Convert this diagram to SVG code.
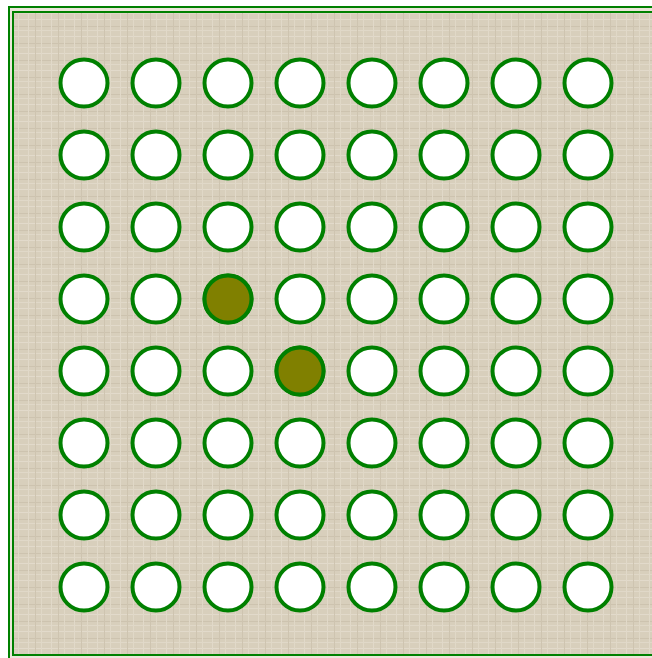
<svg xmlns="http://www.w3.org/2000/svg" width="652" height="658" viewBox="0 0 652 658">
<style>
.c{fill:#ffffff;stroke:#008000;stroke-width:4}
.f{fill:#808000}
.b{fill:none;stroke:#008000;stroke-width:2}
</style>
<defs>
<pattern id="tex" width="23" height="17" patternUnits="userSpaceOnUse">
<rect width="23" height="17" fill="#d8cfbc"/>
<rect x="0" y="2" width="23" height="1" fill="#e2dacb"/>
<rect x="0" y="9" width="23" height="1" fill="#cdc3af"/>
<rect x="0" y="13" width="23" height="1" fill="#e0d8c8"/>
<rect x="5" y="0" width="1" height="17" fill="#e1d9c9"/>
<rect x="12" y="0" width="1" height="17" fill="#cec4b0"/>
<rect x="18" y="0" width="1" height="17" fill="#e0d8c7"/>
</pattern>
<g id="row">
<circle class="c" cx="84" cy="0" r="23.5"/>
<circle class="c" cx="156" cy="0" r="23.5"/>
<circle class="c" cx="228" cy="0" r="23.5"/>
<circle class="c" cx="300" cy="0" r="23.5"/>
<circle class="c" cx="372" cy="0" r="23.5"/>
<circle class="c" cx="444" cy="0" r="23.5"/>
<circle class="c" cx="516" cy="0" r="23.5"/>
<circle class="c" cx="588" cy="0" r="23.5"/>
</g>
</defs>
<rect width="652" height="658" fill="#ffffff"/>
<rect x="9" y="7" width="660" height="660" fill="#ece6da"/>
<rect x="13" y="12" width="660" height="643" fill="url(#tex)"/>
<rect class="b" x="9" y="7" width="660" height="660"/>
<rect class="b" x="13" y="12" width="660" height="643"/>
<g id="grid">
<use href="#row" y="83"/>
<use href="#row" y="155"/>
<use href="#row" y="227"/>
<use href="#row" y="299"/>
<use href="#row" y="371"/>
<use href="#row" y="443"/>
<use href="#row" y="515"/>
<use href="#row" y="587"/>
</g>
<g id="filled">
<circle class="c f" cx="228" cy="299" r="23.5"/>
<circle class="c f" cx="300" cy="371" r="23.5"/>
</g>
</svg>
